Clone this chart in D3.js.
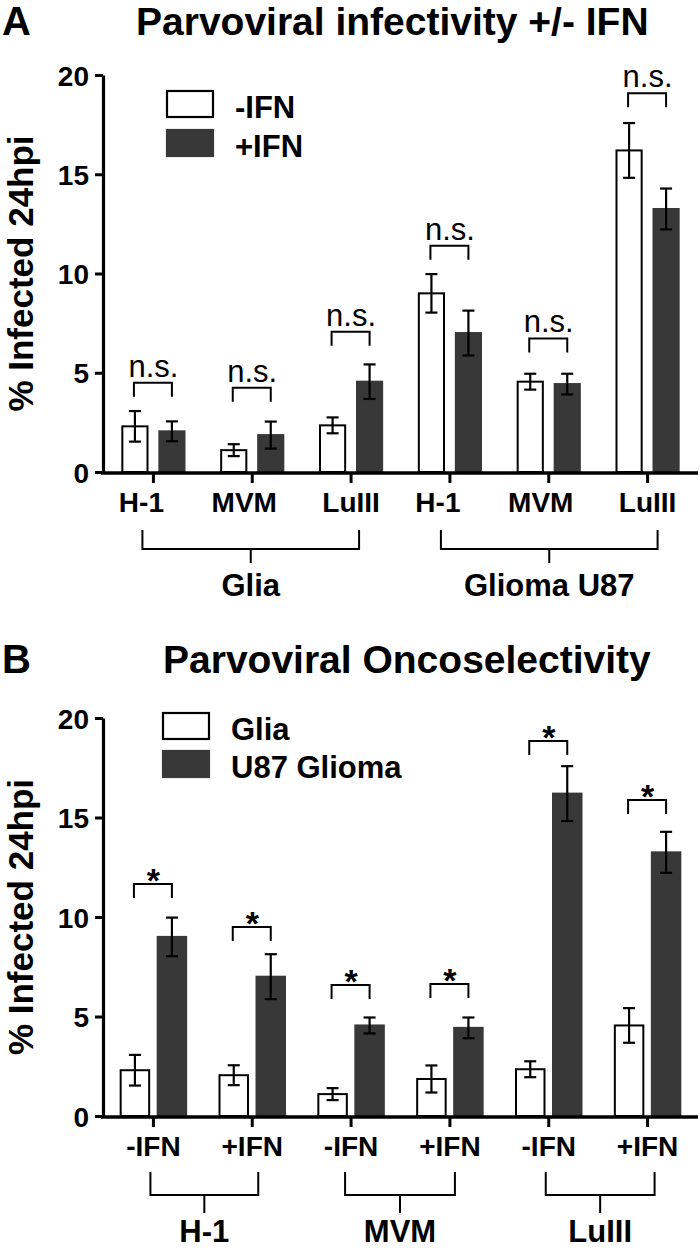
<!DOCTYPE html>
<html>
<head>
<meta charset="utf-8">
<script src="https://cdn.jsdelivr.net/npm/d3@7"></script>
<style>
  html, body { margin: 0; padding: 0; background: #fff; }
  svg { display: block; font-family: "Liberation Sans", Arial, Helvetica, sans-serif; }
</style>
</head>
<body>
<div id="chart"></div>
<script>
// values (% infected at 24 hpi, mean and error)
// order: Glia H-1, Glia MVM, Glia LuIII, U87 H-1, U87 MVM, U87 LuIII
const viruses = ["H-1", "MVM", "LuIII"];
const cellTypes = ["Glia", "Glioma U87"];
const ifnLabels = ["-IFN", "+IFN"];
const noIfnMean = [2.3, 1.1, 2.35, 9.0, 4.55, 16.2];
const noIfnErr = [0.77, 0.3, 0.4, 0.97, 0.4, 1.38];
const ifnMean = [2.05, 1.86, 4.55, 7.0, 4.43, 13.25];
const ifnErr = [0.5, 0.68, 0.87, 1.13, 0.52, 1.03];
const yTicks = [0, 5, 10, 15, 20];

// significance bracket heights (data units)
const sigLevelA = [4.5, 4.25, 7.07, 11.4, 6.73, 19.08];
const sigLevelB = [11.66, 9.5, 6.58, 6.63, 18.84, 15.88];

const width = 700;
const height = 1250;
const dark = "#383838";
const font = "'Liberation Sans', Arial, Helvetica, sans-serif";

const svg = d3.select("#chart")
  .append("svg")
  .attr("width", width)
  .attr("height", height)
  .attr("viewBox", `0 0 ${width} ${height}`);

// panel A: groups = cell x virus, series = -IFN / +IFN
const groupsA = [];
cellTypes.forEach(function(c, ci) {
  viruses.forEach(function(v, vi) {
    const k = ci * 3 + vi;
    groupsA.push({
      label: v,
      values: [
        { mean: noIfnMean[k], err: noIfnErr[k] },
        { mean: ifnMean[k], err: ifnErr[k] }
      ],
      sig: sigLevelA[k]
    });
  });
});

// panel B: groups = virus x IFN, series = Glia / U87
const groupsB = [];
viruses.forEach(function(v, vi) {
  [0, 1].forEach(function(s) {
    const m = s === 0 ? noIfnMean : ifnMean;
    const e = s === 0 ? noIfnErr : ifnErr;
    groupsB.push({
      label: ifnLabels[s],
      values: [
        { mean: m[vi], err: e[vi] },
        { mean: m[vi + 3], err: e[vi + 3] }
      ],
      sig: sigLevelB[vi * 2 + s]
    });
  });
});

function drawPanel(cfg) {
  const g = svg.append("g");

  const y = d3.scaleLinear().domain([0, 20]).range([cfg.y0, cfg.y20]);
  const x0 = d3.scaleBand()
    .domain(d3.range(cfg.groups.length))
    .range([104, 697]);
  const x1 = d3.scaleBand()
    .domain([0, 1])
    .range([-37, 37])
    .paddingInner(cfg.pad)
    .paddingOuter(cfg.pad / 2);
  const cx = function(i) { return x0(i) + x0.bandwidth() / 2; };

  // panel letter and title
  g.append("text")
    .attr("x", 2).attr("y", cfg.titleY)
    .attr("font-size", 40).attr("font-weight", "bold")
    .text(cfg.letter);
  g.append("text")
    .attr("x", cfg.titleX).attr("y", cfg.titleY)
    .attr("font-size", 39).attr("font-weight", "bold")
    .text(cfg.title);

  // bars
  const grp = g.selectAll(".grp")
    .data(cfg.groups)
    .enter()
    .append("g")
    .attr("class", "grp")
    .attr("transform", function(d, i) { return "translate(" + cx(i) + ",0)"; });

  grp.selectAll("rect")
    .data(function(d) { return d.values; })
    .enter()
    .append("rect")
    .attr("x", function(d, j) { return x1(j); })
    .attr("width", x1.bandwidth())
    .attr("y", function(d) { return y(d.mean); })
    .attr("height", function(d) { return y(0) - y(d.mean); })
    .attr("fill", function(d, j) { return j === 0 ? "#fff" : dark; })
    .attr("stroke", function(d, j) { return j === 0 ? "#000" : dark; })
    .attr("stroke-width", 2);

  // error bars
  const eb = grp.selectAll(".err")
    .data(function(d) { return d.values; })
    .enter()
    .append("g")
    .attr("class", "err")
    .attr("transform", function(d, j) {
      return "translate(" + (x1(j) + x1.bandwidth() / 2) + ",0)";
    })
    .attr("stroke", "#000")
    .attr("stroke-width", 2.2);
  eb.append("line")
    .attr("y1", function(d) { return y(d.mean - d.err); })
    .attr("y2", function(d) { return y(d.mean + d.err); });
  eb.append("line")
    .attr("x1", -6).attr("x2", 6)
    .attr("y1", function(d) { return y(d.mean + d.err); })
    .attr("y2", function(d) { return y(d.mean + d.err); });
  eb.append("line")
    .attr("x1", -6).attr("x2", 6)
    .attr("y1", function(d) { return y(d.mean - d.err); })
    .attr("y2", function(d) { return y(d.mean - d.err); });

  // significance brackets
  const l = x1(0) + x1.bandwidth() / 2;
  const r = x1(1) + x1.bandwidth() / 2;
  grp.append("path")
    .attr("fill", "none")
    .attr("stroke", "#000")
    .attr("stroke-width", 2)
    .attr("d", function(d) {
      const t = y(d.sig);
      return "M" + (l - 1) + "," + (t + 14) + "V" + t + "H" + r + "V" + (t + 14);
    });
  grp.append("text")
    .attr("x", (l + r) / 2)
    .attr("y", function(d) { return y(d.sig) + cfg.sigDy; })
    .attr("text-anchor", "middle")
    .attr("font-size", cfg.sigSize)
    .attr("font-weight", cfg.sigWeight)
    .text(cfg.sigText);

  // axes
  const yAxis = g.append("g")
    .attr("transform", "translate(103,0)")
    .call(d3.axisLeft(y).tickValues(yTicks).tickSize(8).tickSizeOuter(0).tickPadding(6));
  yAxis.select(".domain").attr("stroke-width", 3.2);
  yAxis.selectAll(".tick line").attr("stroke-width", 3);
  yAxis.selectAll(".tick text")
    .attr("font-size", 28).attr("font-weight", "bold")
    .attr("font-family", font).attr("fill", "#000")
    .attr("dy", "0.36em");

  const xAxis = g.append("g")
    .attr("transform", "translate(0," + (cfg.y0 + 1) + ")")
    .call(d3.axisBottom(x0).tickSize(10).tickSizeOuter(0).tickPadding(9)
      .tickFormat(function(i) { return cfg.groups[i].label; }));
  xAxis.select(".domain").attr("d", "M101,0H698").attr("stroke-width", 3.6);
  xAxis.selectAll(".tick line").attr("stroke-width", 3);
  xAxis.selectAll(".tick text")
    .attr("font-size", 28).attr("font-weight", "bold")
    .attr("font-family", font).attr("fill", "#000")
    .attr("dx", function(i) { return cfg.labelShift[i % cfg.labelShift.length]; });

  // y axis title
  g.append("text")
    .attr("transform", "translate(33," + (cfg.y0 + cfg.y20) / 2 + ") rotate(-90)")
    .attr("text-anchor", "middle")
    .attr("font-size", 35).attr("font-weight", "bold")
    .text("% Infected 24hpi");

  // lower group brackets
  const br = g.append("g").attr("stroke", "#000").attr("stroke-width", 2).attr("fill", "none");
  cfg.outer.forEach(function(o) {
    const a = cx(o.from) - o.padL;
    const b = cx(o.to) + o.padR;
    const m = (a + b) / 2;
    br.append("path")
      .attr("d", "M" + a + "," + cfg.brTop + "V" + cfg.brMid + "H" + b + "V" + cfg.brTop +
        "M" + m + "," + cfg.brMid + "V" + cfg.brBot);
    g.append("text")
      .attr("x", m).attr("y", cfg.brLabelY)
      .attr("text-anchor", "middle")
      .attr("font-size", 31).attr("font-weight", "bold")
      .text(o.label);
  });

  // legend
  const lg = g.append("g");
  cfg.legend.forEach(function(name, j) {
    const top = cfg.legY[j];
    lg.append("rect")
      .attr("x", cfg.legX).attr("y", top)
      .attr("width", 46).attr("height", 26)
      .attr("fill", j === 0 ? "#fff" : dark)
      .attr("stroke", j === 0 ? "#000" : dark)
      .attr("stroke-width", 2.2);
    lg.append("text")
      .attr("x", cfg.legX + 68).attr("y", top + 27)
      .attr("font-size", 31).attr("font-weight", "bold")
      .text(name);
  });
}

drawPanel({
  letter: "A",
  title: "Parvoviral infectivity +/- IFN",
  titleX: 136,
  titleY: 35,
  y0: 472,
  y20: 75,
  groups: groupsA,
  pad: 0.32,
  labelShift: [-12, -8, 0],
  sigText: "n.s.",
  sigSize: 31,
  sigWeight: "normal",
  sigDy: -6,
  outer: [
    { from: 0, to: 2, padL: 11, padR: 8, label: cellTypes[0] },
    { from: 3, to: 5, padL: 9, padR: 10, label: cellTypes[1] }
  ],
  brTop: 530,
  brMid: 549,
  brBot: 563,
  brLabelY: 596,
  legend: ifnLabels,
  legX: 167,
  legY: [91, 130]
});

drawPanel({
  letter: "B",
  title: "Parvoviral Oncoselectivity",
  titleX: 163,
  titleY: 673,
  y0: 1116,
  y20: 718,
  groups: groupsB,
  pad: 0.23,
  labelShift: [0],
  sigText: "*",
  sigSize: 34,
  sigWeight: "bold",
  sigDy: 8,
  outer: [
    { from: 0, to: 1, padL: 3, padR: 6, label: viruses[0] },
    { from: 2, to: 3, padL: 6, padR: 5, label: viruses[1] },
    { from: 4, to: 5, padL: 3, padR: 7, label: viruses[2] }
  ],
  brTop: 1172,
  brMid: 1195,
  brBot: 1213,
  brLabelY: 1242,
  legend: ["Glia", "U87 Glioma"],
  legX: 163,
  legY: [713, 751]
});
</script>
</body>
</html>
